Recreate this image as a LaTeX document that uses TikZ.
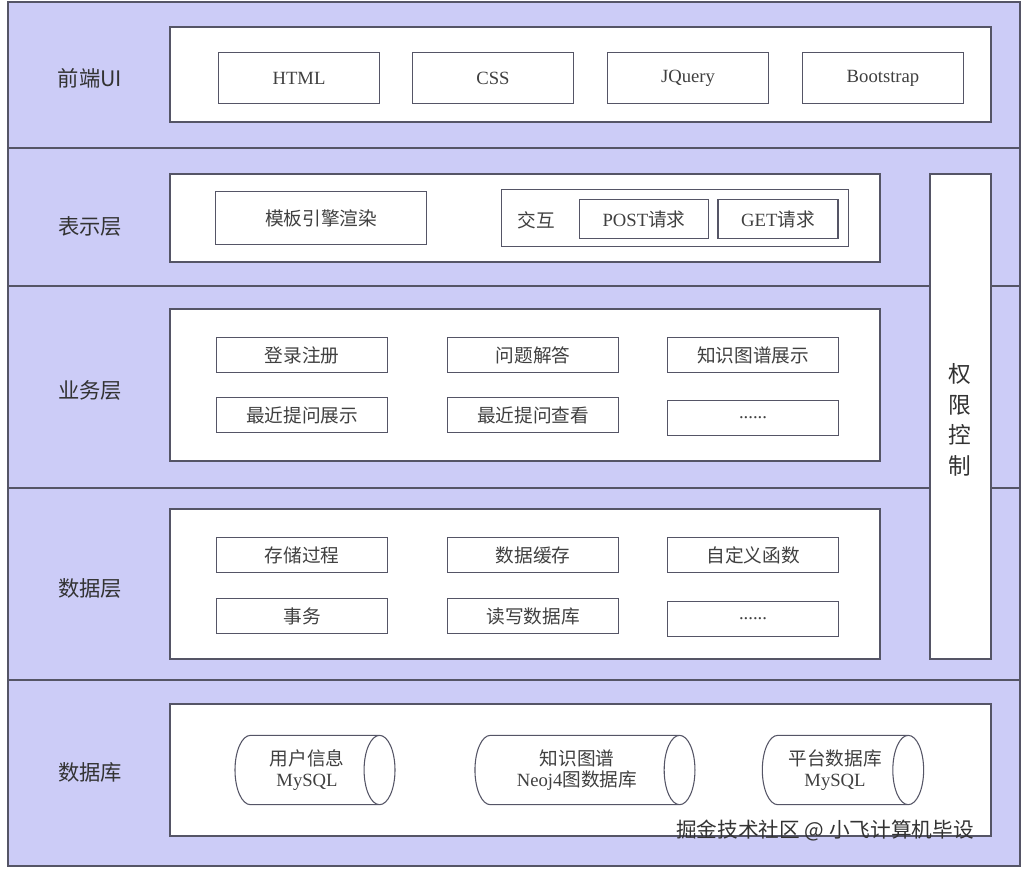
\documentclass[tikz,border=0pt]{standalone}
\usepackage{fontspec}
\usepackage{tikz}
\usetikzlibrary{shapes.geometric}
\setmainfont{Liberation Serif}
\newfontfamily\cjk{Noto Sans CJK SC}
\definecolor{bandcol}{HTML}{CCCCF7}
\definecolor{linecol}{HTML}{555566}
\begin{document}
\begin{tikzpicture}[x=0.75pt, y=-0.75pt, font=\fontsize{14}{16}\selectfont]
    \tikzstyle{panel} = [draw=linecol, fill=white, thick]
    \tikzstyle{item} = [draw=linecol, thick, fill=white, inner sep=0pt,
	minimum height=26pt, text=black!75]
    \tikzstyle{cn} = [font=\fontsize{14}{16}\selectfont\cjk]
    \tikzstyle{layer} = [text=black!80, font=\fontsize{16}{18}\selectfont\cjk]
    \tikzstyle{db} = [draw=linecol, thick, cylinder, shape aspect=0.75,
	minimum height=120pt, minimum width=52pt, align=center, text=black!75,
	inner sep=0pt]

	\useasboundingbox (0,0) rectangle (1030,869);
	\fill[white] (0,0) rectangle (1030,869);
	\filldraw[fill=bandcol, draw=linecol, thick] (8,2) rectangle (1020,866);
	\foreach \y in {148,286,488,680}
		\draw[linecol, thick] (8,\y) -- (1020,\y);

	% panels
	\draw[panel] (170,27) rectangle (991,122);
	\draw[panel] (170,174) rectangle (880,262);
	\draw[panel] (170,309) rectangle (880,461);
	\draw[panel] (170,509) rectangle (880,659);
	\draw[panel] (170,704) rectangle (991,836);
	\draw[panel] (930,174) rectangle (991,659);

	\begin{scope}
		\path
			node[layer] (ui) at (90,78) {前端UI}
			node[layer] (view) at (90,226) {表示层}
			node[layer] (biz) at (90,390) {业务层}
			node[layer] (data) at (90,588) {数据层}
			node[layer] (dbl) at (90,772) {数据库}
			node[layer, align=center, font=\fontsize{17}{23}\selectfont\cjk] (auth) at (960,420) {权\\限\\控\\制}

			node[item, minimum width=121pt, minimum height=38pt] (html) at (299,78) {HTML}
			node[item, minimum width=121pt, minimum height=38pt] (css) at (493,78) {CSS}
			node[item, minimum width=121pt, minimum height=38pt] (jq) at (688,78) {JQuery}
			node[item, minimum width=121pt, minimum height=38pt] (bs) at (883,78) {Bootstrap}

			node[item, cn, minimum width=158pt, minimum height=40pt] (tpl) at (321,218) {模板引擎渲染}
			node[item, minimum width=260pt, minimum height=43pt] (inter) at (675,218) {}
			node[cn, text=black!75] (intl) at (536,220) {交互}
			node[item, minimum width=97pt, minimum height=29pt] (post) at (644,219) {POST{\cjk 请求}}
			node[item, minimum width=90pt, minimum height=29pt] (get) at (778,219) {GET{\cjk 请求}}

			node[item, cn, minimum width=128pt] (login) at (302,355) {登录注册}
			node[item, cn, minimum width=128pt] (qa) at (533,355) {问题解答}
			node[item, cn, minimum width=128pt] (kg) at (753,355) {知识图谱展示}
			node[item, cn, minimum width=128pt] (recent) at (302,415) {最近提问展示}
			node[item, cn, minimum width=128pt] (look) at (533,415) {最近提问查看}
			node[item, minimum width=128pt] (more1) at (753,418) {......}

			node[item, cn, minimum width=128pt] (proc) at (302,555) {存储过程}
			node[item, cn, minimum width=128pt] (cache) at (533,555) {数据缓存}
			node[item, cn, minimum width=128pt] (func) at (753,555) {自定义函数}
			node[item, cn, minimum width=128pt] (trans) at (302,616) {事务}
			node[item, cn, minimum width=128pt] (rw) at (533,616) {读写数据库}
			node[item, minimum width=128pt] (more2) at (753,619) {......}

			node[db, minimum height=120pt] (user) at (307,770) {{\cjk 用户信息}\\MySQL}
			node[db, minimum height=165pt] (neo) at (577,770) {{\cjk 知识图谱}\\Neoj4{\cjk 图数据库}}
			node[db, minimum height=121pt] (plat) at (835,770) {{\cjk 平台数据库}\\MySQL}

			node[text=black!80, font=\fontsize{15.5}{17}\selectfont\cjk] (mark) at (825,830) {掘金技术社区 @ 小飞计算机毕设}
		;
	\end{scope}
\end{tikzpicture}
\end{document}
